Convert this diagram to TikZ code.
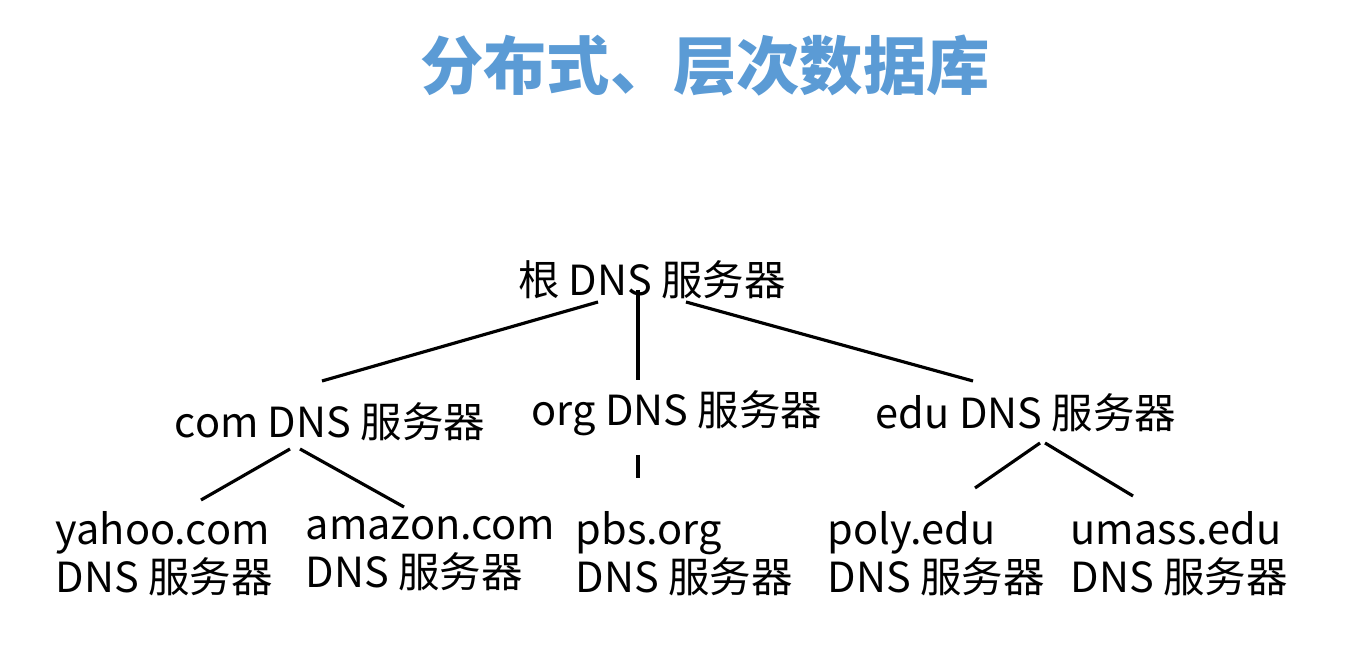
\documentclass[tikz,border=0pt]{standalone}
\usepackage{fontspec}
\setmainfont{Noto Sans CJK SC}
\definecolor{titleblue}{HTML}{5B9BD5}
\begin{document}
\begin{tikzpicture}[x=0.01cm,y=-0.01cm,
  srv/.style={font=\fontsize{11.8pt}{13.6pt}\selectfont,inner sep=0pt},
  leaf/.style={srv,align=left,anchor=west},
  edge/.style={line width=0.9pt}]
\useasboundingbox (0,0) rectangle (1371,671);
\node[font=\fontsize{18pt}{20pt}\selectfont\bfseries,text=titleblue] (title) at (705,66) {分布式、层次数据库};

\node[srv] (root) at (652,280) {根 DNS 服务器};
\node[srv] (com) at (330,422) {com DNS 服务器};
\node[srv] (org) at (677,413) {org DNS 服务器};
\node[srv] (edu) at (1026,413) {edu DNS 服务器};

\node[leaf] (yahoo) at (55,554) {yahoo.com\\DNS 服务器};
\node[leaf] (amazon) at (305,554) {amazon.com\\DNS 服务器};
\node[leaf] (pbs) at (575,554) {pbs.org\\DNS 服务器};
\node[leaf] (poly) at (827,554) {poly.edu\\DNS 服务器};
\node[leaf] (umass) at (1070,554) {umass.edu\\DNS 服务器};

% end points of the links
\coordinate (r1) at (598,302); \coordinate (c0) at (322,381);
\coordinate (r2) at (638,290); \coordinate (o0) at (638,380);
\coordinate (r3) at (686,302); \coordinate (e0) at (973,381);
\coordinate (c1) at (290,449); \coordinate (y0) at (201,500);
\coordinate (c2) at (300,449); \coordinate (a0) at (404,507);
\coordinate (o1) at (638,455); \coordinate (p0) at (638,478);
\coordinate (e1) at (1040,443); \coordinate (l0) at (975,488);
\coordinate (e2) at (1045,443); \coordinate (u0) at (1133,496);

\draw[edge] (r1) -- (c0);
\draw[edge] (r2) -- (o0);
\draw[edge] (r3) -- (e0);
\draw[edge] (c1) -- (y0);
\draw[edge] (c2) -- (a0);
\draw[edge] (o1) -- (p0);
\draw[edge] (e1) -- (l0);
\draw[edge] (e2) -- (u0);
\end{tikzpicture}
\end{document}
